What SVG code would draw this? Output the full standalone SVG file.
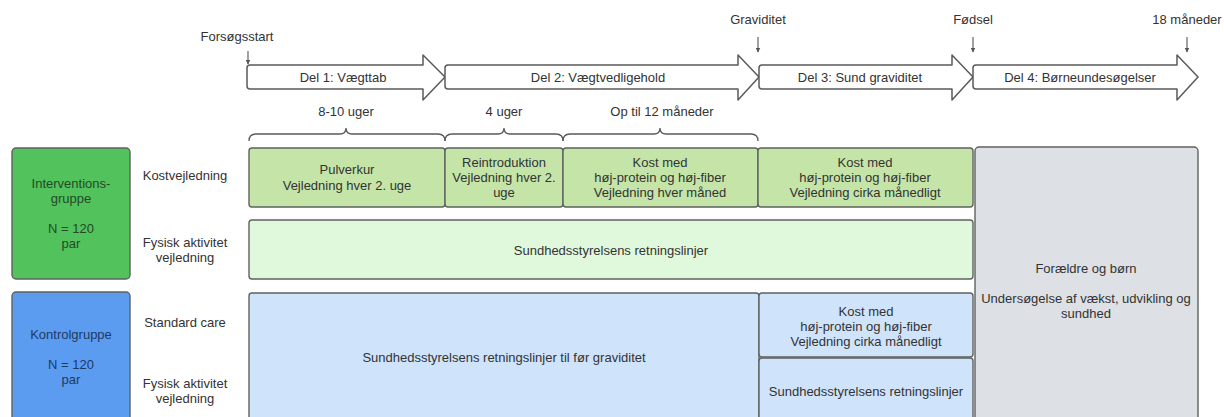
<svg xmlns="http://www.w3.org/2000/svg" width="1224" height="417" viewBox="0 0 1224 417">
<defs>
<marker id="ah" viewBox="0 0 10 10" refX="9" refY="5" markerWidth="5" markerHeight="5" orient="auto" markerUnits="userSpaceOnUse">
<path d="M0,0 L10,5 L0,10 Z" fill="#555"/>
</marker>
<style>
text{font-family:"Liberation Sans",Arial,sans-serif;font-size:13px;fill:#333;text-anchor:middle;dominant-baseline:central}
.phase{fill:#fff;stroke:#5a5a5a;stroke-width:1.5;stroke-linejoin:round}
.box{stroke:#5f625f;stroke-width:1.4}
.g1{fill:#c4e5a7}
.g2{fill:#e0f8dc}
.b1{fill:#cfe3fb}
.gr{fill:#dde0e4}
.gg{fill:#52c25c}
.bg{fill:#5b9cf1}
.brace{fill:none;stroke:#5a5a5a;stroke-width:1.3}
.tick{stroke:#555;stroke-width:1.1;fill:none}
.tg{fill:#234a26}
.tb{fill:#1d3a63}
</style>
</defs>
<rect width="1224" height="417" fill="#fff"/>

<g id="timeline-markers">
<text x="237" y="36">Forsøgsstart</text>
<line class="tick" x1="248" y1="51" x2="248" y2="64" marker-end="url(#ah)"/>
<text x="758" y="19">Graviditet</text>
<line class="tick" x1="758" y1="37" x2="758" y2="52" marker-end="url(#ah)"/>
<text x="973" y="19">Fødsel</text>
<line class="tick" x1="973" y1="37" x2="973" y2="52" marker-end="url(#ah)"/>
<text x="1187" y="19">18 måneder</text>
<line class="tick" x1="1187" y1="37" x2="1187" y2="52" marker-end="url(#ah)"/>
</g>

<g id="phase1">
<path class="phase" d="M250,65 L423,65 L423,55 L445,77 L423,100 L423,89 L250,89 Q247,89 247,86 L247,68 Q247,65 250,65 Z"/>
<text x="343" y="77">Del 1: Vægttab</text>
</g>
<g id="phase2">
<path class="phase" d="M448,65 L738,65 L738,55 L759,77 L738,100 L738,89 L448,89 Q445,89 445,86 L445,68 Q445,65 448,65 Z"/>
<text x="598" y="77">Del 2: Vægtvedligehold</text>
</g>
<g id="phase3">
<path class="phase" d="M762,65 L952,65 L952,55 L973,77 L952,100 L952,89 L762,89 Q759,89 759,86 L759,68 Q759,65 762,65 Z"/>
<text x="860" y="77">Del 3: Sund graviditet</text>
</g>
<g id="phase4">
<path class="phase" d="M976,65 L1177,65 L1177,55 L1198,77 L1177,100 L1177,89 L976,89 Q973,89 973,86 L973,68 Q973,65 976,65 Z"/>
<text x="1080" y="77">Del 4: Børneundesøgelser</text>
</g>

<g id="durations">
<text x="346" y="111">8-10 uger</text>
<text x="504" y="111">4 uger</text>
<text x="662" y="111">Op til 12 måneder</text>
<path class="brace" d="M249,141 Q249,134 256,134 L340,134 Q346,134 346,128 Q346,134 352,134 L438,134 Q445,134 445,141"/>
<path class="brace" d="M445,141 Q445,134 452,134 L498,134 Q504,134 504,128 Q504,134 510,134 L556,134 Q563,134 563,141"/>
<path class="brace" d="M563,141 Q563,134 570,134 L654,134 Q660,134 660,128 Q660,134 666,134 L751,134 Q758,134 758,141"/>
</g>

<g id="intervention-group">
<rect class="box gg" x="12" y="148" width="118" height="131" rx="4"/>
<text class="tg" x="71" y="183">Interventions-</text>
<text class="tg" x="71" y="198">gruppe</text>
<text class="tg" x="71" y="228">N = 120</text>
<text class="tg" x="71" y="243">par</text>
</g>
<g id="control-group">
<rect class="box bg" x="12" y="292" width="118" height="140" rx="4"/>
<text class="tb" x="71" y="334">Kontrolgruppe</text>
<text class="tb" x="71" y="364">N = 120</text>
<text class="tb" x="71" y="379">par</text>
</g>

<g id="row-labels">
<text x="185" y="175">Kostvejledning</text>
<text x="185" y="242">Fysisk aktivitet</text>
<text x="185" y="257">vejledning</text>
<text x="185" y="322">Standard care</text>
<text x="185" y="383">Fysisk aktivitet</text>
<text x="185" y="398">vejledning</text>
</g>

<g id="pulverkur">
<rect class="box g1" x="249" y="148" width="196" height="59" rx="3"/>
<text x="347" y="169">Pulverkur</text>
<text x="347" y="185">Vejledning hver 2. uge</text>
</g>
<g id="reintroduktion">
<rect class="box g1" x="445" y="148" width="118" height="59" rx="3"/>
<text x="504" y="162">Reintroduktion</text>
<text x="504" y="177">Vejledning hver 2.</text>
<text x="504" y="192">uge</text>
</g>
<g id="kost-int">
<rect class="box g1" x="563" y="148" width="195" height="59" rx="3"/>
<text x="660" y="162">Kost med</text>
<text x="660" y="177">høj-protein og høj-fiber</text>
<text x="660" y="192">Vejledning hver måned</text>
</g>
<g id="kost-int-grav">
<rect class="box g1" x="758" y="148" width="215" height="59" rx="3"/>
<text x="865" y="162">Kost med</text>
<text x="865" y="177">høj-protein og høj-fiber</text>
<text x="865" y="192">Vejledning cirka månedligt</text>
</g>
<g id="fysisk-int">
<rect class="box g2" x="249" y="220" width="724" height="59" rx="3"/>
<text x="611" y="250">Sundhedsstyrelsens retningslinjer</text>
</g>

<g id="kontrol-main">
<rect class="box b1" x="249" y="293" width="510" height="140" rx="3"/>
<text x="504" y="357">Sundhedsstyrelsens retningslinjer til før graviditet</text>
</g>
<g id="kontrol-kost">
<rect class="box b1" x="759" y="293" width="214" height="64" rx="3"/>
<text x="866" y="311">Kost med</text>
<text x="866" y="326">høj-protein og høj-fiber</text>
<text x="866" y="341">Vejledning cirka månedligt</text>
</g>
<g id="kontrol-fysisk">
<rect class="box b1" x="759" y="358" width="214" height="75" rx="3"/>
<text x="866" y="391">Sundhedsstyrelsens retningslinjer</text>
</g>

<g id="boern">
<rect class="box gr" x="975" y="147" width="223" height="286" rx="4"/>
<text x="1086" y="268">Forældre og børn</text>
<text x="1086" y="298">Undersøgelse af vækst, udvikling og</text>
<text x="1086" y="313">sundhed</text>
</g>
</svg>
